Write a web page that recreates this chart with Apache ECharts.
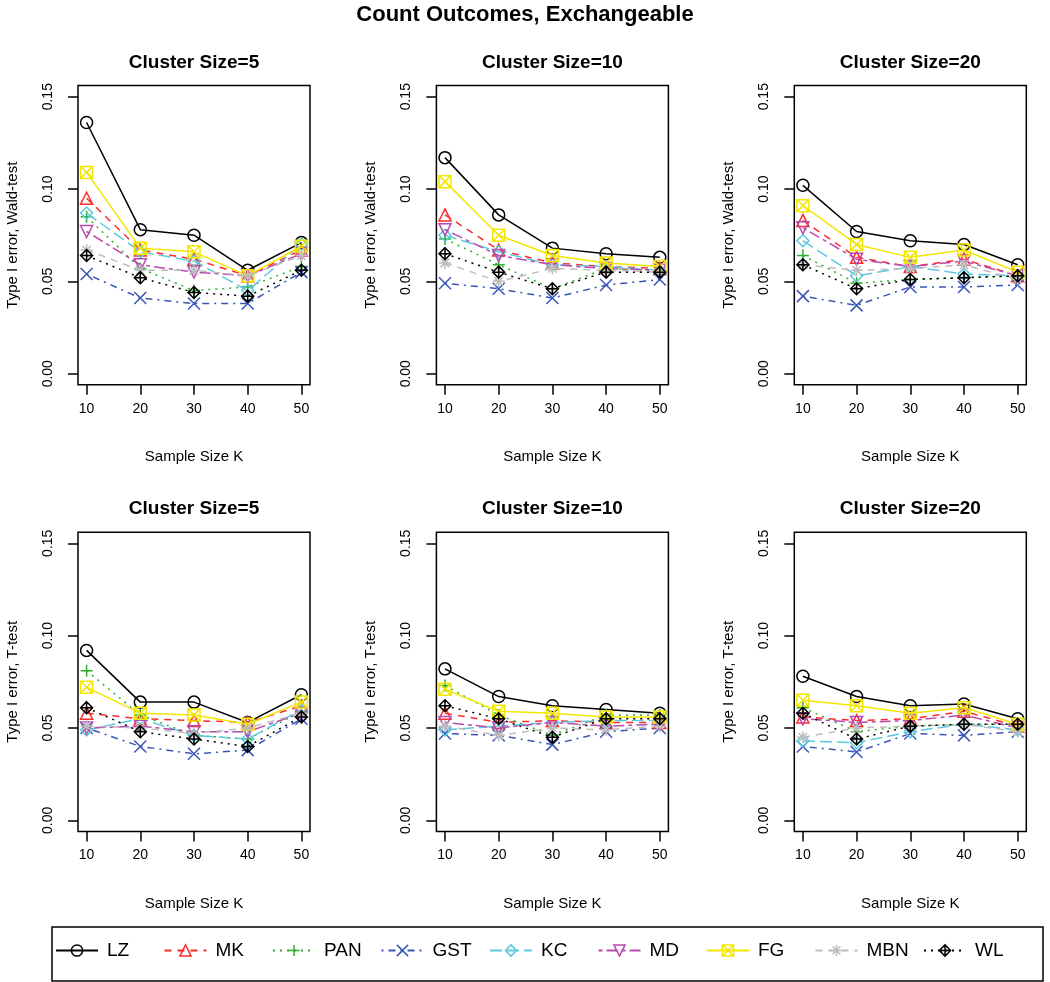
<!DOCTYPE html>
<html>
<head>
<meta charset="utf-8">
<script src="https://cdn.jsdelivr.net/npm/echarts@6/dist/echarts.min.js"></script>
<style>
html,body{margin:0;padding:0;background:#fff;}
#chart{width:1050px;height:982px;}
</style>
</head>
<body>
<div id="chart"></div>
<script>
// ---- data ----
const sampleSizes = [10, 20, 30, 40, 50];
const xTicks = [10, 20, 30, 40, 50];
const yTicks = [0, 0.05, 0.10, 0.15];
const methods = ['LZ', 'MK', 'PAN', 'GST', 'KC', 'MD', 'FG', 'MBN', 'WL'];
const panelTitles = ['Cluster Size=5', 'Cluster Size=10', 'Cluster Size=20'];
const mainTitle = 'Count Outcomes, Exchangeable';
const rowYNames = ['Type I error, Wald-test', 'Type I error, T-test'];
const xName = 'Sample Size K';

// rows follow methods order: LZ, MK, PAN, GST, KC, MD, FG, MBN, WL
const waldCS5 = [
  [0.136, 0.078, 0.075, 0.056, 0.071],
  [0.095, 0.067, 0.062, 0.053, 0.067],
  [0.085, 0.057, 0.045, 0.047, 0.058],
  [0.054, 0.041, 0.038, 0.038, 0.055],
  [0.087, 0.066, 0.061, 0.045, 0.070],
  [0.077, 0.059, 0.055, 0.053, 0.065],
  [0.109, 0.068, 0.066, 0.053, 0.069],
  [0.067, 0.056, 0.056, 0.053, 0.064],
  [0.064, 0.052, 0.044, 0.042, 0.056]
];
const waldCS10 = [
  [0.117, 0.086, 0.068, 0.065, 0.063],
  [0.086, 0.067, 0.060, 0.058, 0.057],
  [0.073, 0.059, 0.046, 0.057, 0.056],
  [0.049, 0.046, 0.041, 0.048, 0.051],
  [0.075, 0.066, 0.059, 0.058, 0.056],
  [0.078, 0.064, 0.059, 0.057, 0.056],
  [0.104, 0.075, 0.064, 0.060, 0.058],
  [0.060, 0.050, 0.057, 0.056, 0.055],
  [0.065, 0.055, 0.046, 0.055, 0.055]
];
const waldCS20 = [
  [0.102, 0.077, 0.072, 0.070, 0.059],
  [0.083, 0.063, 0.058, 0.062, 0.053],
  [0.064, 0.049, 0.051, 0.052, 0.053],
  [0.042, 0.037, 0.047, 0.047, 0.048],
  [0.072, 0.053, 0.058, 0.054, 0.053],
  [0.079, 0.062, 0.058, 0.061, 0.053],
  [0.091, 0.070, 0.063, 0.067, 0.055],
  [0.059, 0.056, 0.057, 0.059, 0.051],
  [0.059, 0.046, 0.051, 0.052, 0.053]
];
const tCS5 = [
  [0.092, 0.064, 0.064, 0.053, 0.068],
  [0.058, 0.055, 0.054, 0.053, 0.062],
  [0.081, 0.057, 0.046, 0.044, 0.059],
  [0.050, 0.040, 0.036, 0.038, 0.055],
  [0.049, 0.055, 0.046, 0.044, 0.060],
  [0.050, 0.051, 0.048, 0.048, 0.058],
  [0.072, 0.058, 0.057, 0.052, 0.064],
  [0.051, 0.050, 0.047, 0.050, 0.058],
  [0.061, 0.048, 0.044, 0.040, 0.056]
];
const tCS10 = [
  [0.082, 0.067, 0.062, 0.060, 0.058],
  [0.058, 0.053, 0.054, 0.053, 0.053],
  [0.073, 0.057, 0.046, 0.057, 0.057],
  [0.047, 0.046, 0.041, 0.048, 0.050],
  [0.049, 0.051, 0.053, 0.054, 0.054],
  [0.053, 0.050, 0.053, 0.051, 0.052],
  [0.071, 0.059, 0.058, 0.056, 0.056],
  [0.051, 0.046, 0.050, 0.049, 0.051],
  [0.062, 0.055, 0.045, 0.055, 0.055]
];
const tCS20 = [
  [0.078, 0.067, 0.062, 0.063, 0.055],
  [0.056, 0.054, 0.055, 0.059, 0.051],
  [0.061, 0.048, 0.051, 0.052, 0.052],
  [0.040, 0.037, 0.047, 0.046, 0.048],
  [0.043, 0.042, 0.048, 0.052, 0.049],
  [0.055, 0.053, 0.054, 0.057, 0.050],
  [0.065, 0.062, 0.058, 0.061, 0.052],
  [0.045, 0.050, 0.051, 0.052, 0.048],
  [0.058, 0.044, 0.051, 0.052, 0.052]
];
const panels = [waldCS5, waldCS10, waldCS20, tCS5, tCS10, tCS20];

// ---- styles ----
const FONT = 'Liberation Sans, Arial, sans-serif';
const colors = ['#000000', '#FF2A2A', '#2DB02D', '#3A55B8', '#5CC8E0', '#B84AB0', '#F2E600', '#BDBDBD', '#000000'];
const dashes = ['solid', [7, 6], [2, 5], [2, 5, 7, 5], [12, 5], [4, 4, 11, 4], 'solid', [7, 6], [2, 5]];
const symbols = [
  'circle',
  'path://M5,0L10,8.66L0,8.66Z',
  'path://M5,0L5,10M0,5L10,5',
  'path://M0,0L10,10M10,0L0,10',
  'path://M5,0L10,5L5,10L0,5Z',
  'path://M0,0L10,0L5,8.66Z',
  'path://M0,0L10,0L10,10L0,10ZM0,0L10,10M10,0L0,10',
  'path://M5,0L5,10M0,5L10,5M1.5,1.5L8.5,8.5M8.5,1.5L1.5,8.5',
  'path://M5,0L10,5L5,10L0,5ZM5,0L5,10M0,5L10,5'
];

const colLeft = [78, 436.4, 794.3];
const rowTop = [85.6, 532.2];
const boxW = 232, boxH = 299.2;

const grids = [], xAxes = [], yAxes = [], series = [], graphics = [];
graphics.push({type: 'text', x: 525, y: 15, style: {text: mainTitle, fontSize: 22, fontWeight: 'bold', fill: '#000', align: 'center', verticalAlign: 'middle', fontFamily: FONT}});

panels.forEach((panel, p) => {
  const r = Math.floor(p / 3), c = p % 3;
  grids.push({left: colLeft[c], top: rowTop[r], width: boxW, height: boxH, show: true, borderColor: '#000', borderWidth: 1.5, backgroundColor: 'transparent'});
  graphics.push({type: 'text', x: colLeft[c] + boxW / 2, y: rowTop[r] - 23, style: {text: panelTitles[c], fontSize: 19, fontWeight: 'bold', fill: '#000', align: 'center', verticalAlign: 'middle', fontFamily: FONT}});
  xAxes.push({
    type: 'value', gridIndex: p, min: 8.4, max: 51.6,
    axisLine: {show: false, onZero: false},
    splitLine: {show: false},
    axisTick: {show: true, length: 10, customValues: xTicks, lineStyle: {color: '#000', width: 1.5}},
    axisLabel: {customValues: xTicks, fontSize: 14, color: '#000', margin: 17, fontFamily: FONT},
    name: xName, nameLocation: 'middle', nameGap: 65,
    nameTextStyle: {fontSize: 15, color: '#000', fontFamily: FONT}
  });
  yAxes.push({
    type: 'value', gridIndex: p, min: -0.006, max: 0.156,
    axisLine: {show: false, onZero: false},
    splitLine: {show: false},
    axisTick: {show: true, length: 10, customValues: yTicks, lineStyle: {color: '#000', width: 1.5}},
    axisLabel: {customValues: yTicks, fontSize: 14, color: '#000', margin: 30, rotate: 90, align: 'center', verticalAlign: 'middle',
      formatter: v => v.toFixed(2), fontFamily: FONT},
    name: rowYNames[r], nameLocation: 'middle', nameGap: 58,
    nameTextStyle: {fontSize: 15, color: '#000', fontFamily: FONT}
  });
  methods.forEach((m, i) => {
    series.push({
      name: m, type: 'line', xAxisIndex: p, yAxisIndex: p,
      data: sampleSizes.map((k, j) => [k, panel[i][j]]),
      symbol: symbols[i], symbolSize: 12, showAllSymbol: true,
      lineStyle: {color: colors[i], width: 1.5, type: dashes[i]},
      itemStyle: {color: 'rgba(0,0,0,0)', borderColor: colors[i], borderWidth: 1.5},
      emphasis: {disabled: true}, animation: false, z: 2 + i
    });
  });
});

// legend: one ECharts legend per method, evenly spaced like the reference, inside a framed box
const legends = methods.map((m, i) => ({
  data: [m], left: 55 + i * 108.5, top: 941, orient: 'horizontal',
  itemWidth: 42, itemHeight: 14, padding: 0,
  selectedMode: false,
  itemStyle: {color: 'rgba(0,0,0,0)', borderColor: colors[i], borderWidth: 1.5},
  textStyle: {fontSize: 19, color: '#000', fontFamily: FONT, padding: [0, 0, 0, 4]}
}));
graphics.push({type: 'rect', shape: {x: 52, y: 927, width: 991, height: 54}, style: {fill: 'none', stroke: '#000', lineWidth: 1.5}, z: 100});

const chart = echarts.init(document.getElementById('chart'));
chart.setOption({
  backgroundColor: '#fff',
  animation: false,
  textStyle: {fontFamily: FONT},
  grid: grids, xAxis: xAxes, yAxis: yAxes, series: series,
  graphic: graphics,
  legend: legends
});
</script>
</body>
</html>
